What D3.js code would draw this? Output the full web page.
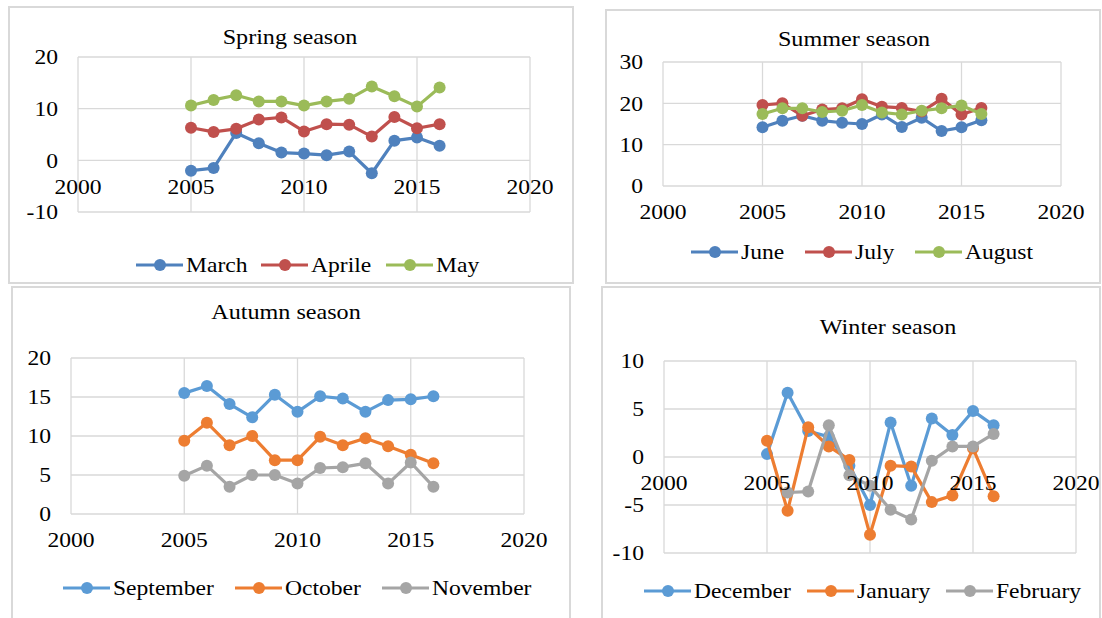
<!DOCTYPE html>
<html lang="en">
<head>
    <meta charset="UTF-8">
    <title>Seasonal temperature</title>
    <script src="https://d3js.org/d3.v7.min.js"></script>
    <style>
        body { margin: 0; background: #fff; }
        .grid line { stroke: #d9d9d9; stroke-width: 1.3; }
        .frame { fill: none; stroke: #d9d9d9; stroke-width: 2; }
    </style>
</head>
<body>
    <svg id="chart" width="1102" height="618"></svg>

    <script>
        // years shared by all panels
        const years = [2005, 2006, 2007, 2008, 2009, 2010, 2011, 2012, 2013, 2014, 2015, 2016];
        const xTicks = [2000, 2005, 2010, 2015, 2020];

        // Spring
        const march  = [-2.0, -1.5, 5.3, 3.3, 1.5, 1.3, 1.0, 1.7, -2.5, 3.8, 4.4, 2.8];
        const aprile = [6.3, 5.5, 6.1, 7.9, 8.3, 5.6, 7.0, 6.9, 4.6, 8.4, 6.2, 7.0];
        const may    = [10.6, 11.7, 12.6, 11.4, 11.4, 10.6, 11.4, 11.9, 14.3, 12.4, 10.4, 14.1];

        // Summer
        const june   = [14.2, 15.8, 17.0, 15.8, 15.3, 15.0, 17.3, 14.3, 16.5, 13.3, 14.2, 15.9];
        const july   = [19.6, 20.0, 17.0, 18.5, 18.8, 21.0, 19.2, 18.9, 18.0, 21.1, 17.3, 18.9];
        const august = [17.4, 18.8, 18.8, 17.9, 18.2, 19.6, 17.8, 17.3, 18.2, 18.8, 19.5, 17.4];

        // Autumn
        const september = [15.5, 16.4, 14.1, 12.4, 15.3, 13.1, 15.1, 14.8, 13.1, 14.6, 14.7, 15.1];
        const october   = [9.4, 11.7, 8.8, 10.0, 6.9, 6.9, 9.9, 8.8, 9.7, 8.7, 7.6, 6.5];
        const november  = [4.9, 6.2, 3.5, 5.0, 5.0, 3.9, 5.9, 6.0, 6.5, 3.9, 6.6, 3.5];

        // Winter (February has no 2005 value)
        const december = [0.3, 6.7, 2.7, 2.1, -0.9, -5.0, 3.6, -3.0, 4.0, 2.3, 4.8, 3.3];
        const january  = [1.7, -5.6, 3.1, 1.1, -0.3, -8.1, -0.9, -1.0, -4.7, -4.0, 0.9, -4.1];
        const february = [null, -3.7, -3.6, 3.3, -1.9, -3.0, -5.5, -6.5, -0.4, 1.1, 1.1, 2.4];

        const oldColors = ["#4f81bd", "#c0504d", "#9bbb59"];
        const newColors = ["#5b9bd5", "#ed7d31", "#a5a5a5"];
        const FONT = "'Liberation Serif', 'DejaVu Serif', 'Times New Roman', serif";
        const STRETCH = 1.15; // the original text is a bit wide

        const panels = [
            {
                title: "Spring season", names: ["March", "Aprile", "May"], values: [march, aprile, may],
                colors: oldColors, yDomain: [-10, 20], yTicks: [-10, 0, 10, 20],
                frame: [9, 7, 573, 283], plot: [78, 57, 530, 212],
                titleX: 290, titleY: 44, legendY: 265, legendX: [136, 261, 386]
            },
            {
                title: "Summer season", names: ["June", "July", "August"], values: [june, july, august],
                colors: oldColors, yDomain: [0, 30], yTicks: [0, 10, 20, 30],
                frame: [606, 10, 1100, 283], plot: [663, 62, 1061, 186],
                titleX: 854, titleY: 46, legendY: 252, legendX: [691, 805, 915]
            },
            {
                title: "Autumn season", names: ["September", "October", "November"], values: [september, october, november],
                colors: newColors, yDomain: [0, 20], yTicks: [0, 5, 10, 15, 20],
                frame: [12, 287, 570, 620], plot: [71, 358, 524, 514],
                titleX: 286, titleY: 319, legendY: 588, legendX: [63, 235, 382]
            },
            {
                title: "Winter season", names: ["December", "January", "February"], values: [december, january, february],
                colors: newColors, yDomain: [-10, 10], yTicks: [-10, -5, 0, 5, 10],
                frame: [602, 287, 1100, 620], plot: [664, 361, 1076, 553],
                titleX: 888, titleY: 334, legendY: 591, legendX: [644, 807, 946]
            }
        ];

        const svg = d3.select("#chart");

        panels.forEach(drawPanel);

        // text drawn at (x,y) and stretched sideways around its anchor
        function label(sel, x, y, size) {
            return sel.attr("transform", `translate(${x},${y}) scale(${STRETCH},1)`)
                .attr("font-size", size);
        }

        function drawPanel(p) {
            const g = svg.append("g").attr("font-family", FONT);
            const [fx0, fy0, fx1, fy1] = p.frame;
            const [px0, py0, px1, py1] = p.plot;

            g.append("rect").attr("class", "frame")
                .attr("x", fx0).attr("y", fy0)
                .attr("width", fx1 - fx0).attr("height", fy1 - fy0);

            const x = d3.scaleLinear().domain([2000, 2020]).range([px0, px1]);
            const y = d3.scaleLinear().domain(p.yDomain).range([py1, py0]);

            // gridlines + plot border
            const grid = g.append("g").attr("class", "grid");
            grid.selectAll(".h").data(p.yTicks).enter().append("line")
                .attr("x1", px0).attr("x2", px1)
                .attr("y1", d => y(d)).attr("y2", d => y(d));
            grid.selectAll(".v").data(xTicks).enter().append("line")
                .attr("x1", d => x(d)).attr("x2", d => x(d))
                .attr("y1", py0).attr("y2", py1);

            // y tick labels
            g.selectAll(".ylab").data(p.yTicks).enter().append("text")
                .each(function (d) { label(d3.select(this), px0 - 20, y(d), 20.5); })
                .attr("dy", "0.35em").attr("text-anchor", "end")
                .text(d => d);

            // series
            const line = d3.line()
                .defined(d => d.v !== null)
                .x(d => x(d.year)).y(d => y(d.v));

            p.values.forEach((vals, i) => {
                const pts = years.map((yr, k) => ({ year: yr, v: vals[k] }));
                g.append("path").datum(pts)
                    .attr("fill", "none").attr("stroke", p.colors[i])
                    .attr("stroke-width", 3.2).attr("stroke-linejoin", "round")
                    .attr("d", line);
                g.selectAll(null).data(pts.filter(d => d.v !== null)).enter().append("circle")
                    .attr("cx", d => x(d.year)).attr("cy", d => y(d.v))
                    .attr("r", 6).attr("fill", p.colors[i]);
            });

            // x tick labels sit under the zero line, on top of the series
            const y0 = y(0);
            g.selectAll(".xlab").data(xTicks).enter().append("text")
                .each(function (d) { label(d3.select(this), x(d), y0 + 26, 20.5); })
                .attr("dy", "0.35em").attr("text-anchor", "middle")
                .text(d => d);

            // title
            label(g.append("text"), p.titleX, p.titleY, 21)
                .attr("text-anchor", "middle")
                .text(p.title);

            // legend
            p.names.forEach((name, i) => {
                const lx = p.legendX[i];
                g.append("line")
                    .attr("x1", lx).attr("x2", lx + 47)
                    .attr("y1", p.legendY).attr("y2", p.legendY)
                    .attr("stroke", p.colors[i]).attr("stroke-width", 3.2);
                g.append("circle")
                    .attr("cx", lx + 24).attr("cy", p.legendY)
                    .attr("r", 6).attr("fill", p.colors[i]);
                label(g.append("text"), lx + 50, p.legendY, 20.5)
                    .attr("dy", "0.35em")
                    .text(name);
            });
        }
    </script>
</body>
</html>
